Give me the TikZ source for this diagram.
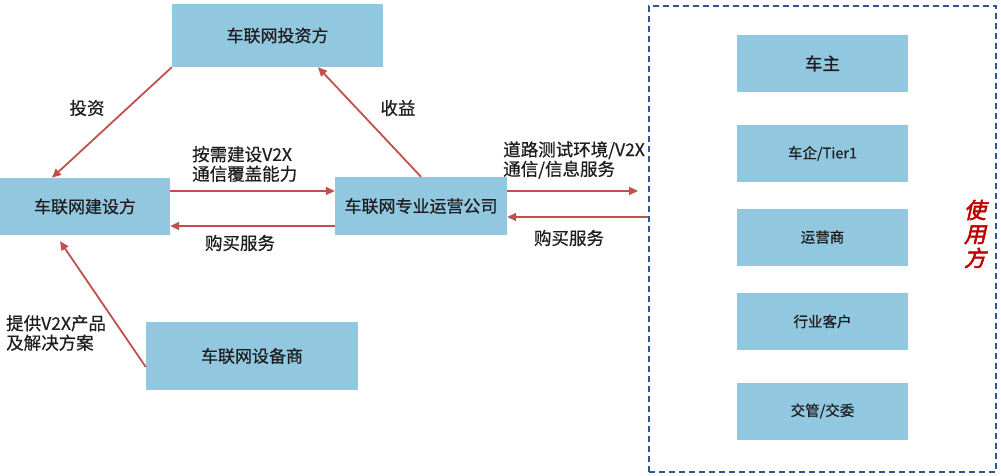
\documentclass[tikz,border=0pt]{standalone}
\usepackage{fontspec}
\setmainfont[FakeBold=0.6]{Noto Sans CJK SC}
\newfontfamily\slantcjk[FakeSlant=0.22,FakeBold=2.5]{Noto Sans CJK SC}
\usetikzlibrary{arrows.meta}
\definecolor{boxblue}{RGB}{146,199,224}
\definecolor{arrred}{RGB}{192,80,77}
\definecolor{dashblue}{RGB}{47,85,151}
\definecolor{userred}{RGB}{192,0,0}
\definecolor{txt}{RGB}{30,30,30}
\begin{document}
\begin{tikzpicture}[x=1pt,y=-1pt,
  box/.style={fill=boxblue,draw=none,inner sep=0pt,text=txt,font=\fontsize{17}{19}\selectfont},
  rbox/.style={box,minimum width=171pt,minimum height=57pt,font=\fontsize{14.5}{17}\selectfont},
  arr/.style={draw=arrred,line width=1.8pt,-{Triangle[length=9pt,width=8pt]}},
  lbl/.style={text=txt,font=\fontsize{17.5}{19.5}\selectfont,inner sep=0pt,align=left}]
\useasboundingbox (0,0) rectangle (1001,476);
% main boxes
\node[box,minimum width=211pt,minimum height=63pt] (inv) at (277.5,35.5) {车联网投资方};
\node[box,minimum width=170pt,minimum height=57pt] (bld) at (85,206.5) {车联网建设方};
\node[box,minimum width=172pt,minimum height=58pt] (op) at (421,206) {车联网专业运营公司};
\node[box,minimum width=212pt,minimum height=68pt] (dev) at (252,356) {车联网设备商};
% users group
\node[draw=dashblue,line width=1.8pt,dash pattern=on 6pt off 4pt,minimum width=347pt,minimum height=466pt,inner sep=0pt] (users) at (822.5,239) {};
\node[rbox,font=\fontsize{17.5}{20}\selectfont] (u1) at (822.5,63.5) {车主};
\node[rbox] (u2) at (822.5,153.5) {车企/Tier1};
\node[rbox] (u3) at (822.5,237) {运营商};
\node[rbox] (u4) at (822.5,321.5) {行业客户};
\node[rbox] (u5) at (822.5,411) {交管/交委};
\node[text=userred,font=\slantcjk\fontsize{22}{24}\selectfont,align=center,inner sep=0pt] (ulbl) at (975,234) {使\\用\\方};
% connectors
\draw[arr] (inv.south west) -- ([xshift=-33pt]bld.north);
\draw[arr] (op.north) -- ([xshift=40.5pt]inv.south);
\draw[arr] ([yshift=15.5pt]bld.east) -- ([yshift=15pt]op.west);
\draw[arr] ([yshift=-20pt]op.west) -- ([yshift=-19.5pt]bld.east);
\coordinate (rt1) at (638,191);
\draw[arr] ([yshift=15pt]op.east) -- (rt1);
\draw[arr] ([yshift=22pt]users.west) -- ([yshift=-11pt]op.east);
\draw[arr] ([yshift=-11pt]dev.west) -- ([xshift=-25pt,yshift=-6pt]bld.south);
% labels
\node[lbl] (l1) at (87,108) {投资};
\node[lbl] (l2) at (398,108) {收益};
\node[lbl,anchor=west] (l3) at (192,164) {按需建设V2X\\通信覆盖能力};
\node[lbl] (l4) at (240,243) {购买服务};
\node[lbl,anchor=west] (l5) at (503,160) {道路测试环境/V2X\\通信/信息服务};
\node[lbl] (l6) at (569,238) {购买服务};
\node[lbl,anchor=west] (l7) at (6,333) {提供V2X产品\\及解决方案};
\end{tikzpicture}
\end{document}
